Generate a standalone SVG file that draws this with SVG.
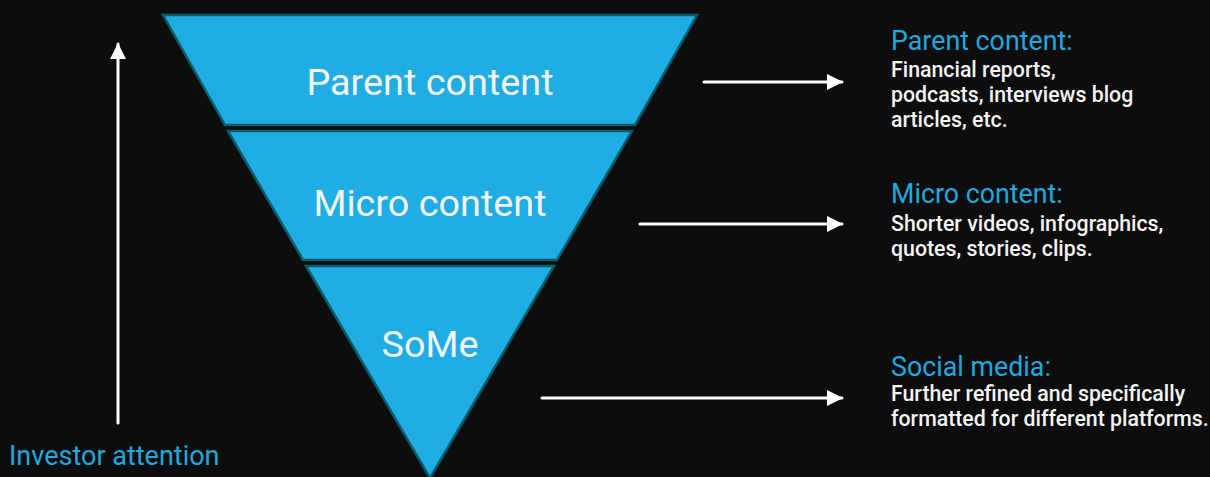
<svg xmlns="http://www.w3.org/2000/svg" width="1210" height="477" viewBox="0 0 1210 477">
<style>
.band{fill:#1fade3;stroke:#0b5d6c;stroke-width:2.5;stroke-linejoin:miter}
.lbl{font-family:Roboto,"Liberation Sans",sans-serif;font-size:37.8px;fill:#f4f4f4;text-anchor:middle}
.hd{font-family:Roboto,"Liberation Sans",sans-serif;font-size:26.8px;fill:#1fa9de}
.tx{font-family:Roboto,"Liberation Sans",sans-serif;font-size:21.3px;font-weight:500;fill:#f4f4f4}
.ln{stroke:#ffffff;stroke-width:3;fill:none;stroke-linecap:round}
</style>
<defs>
<marker id="ah" viewBox="0 0 16 16" refX="15" refY="8" markerWidth="16" markerHeight="16" markerUnits="userSpaceOnUse" orient="auto">
<path d="M0,0 L16,8 L0,16 Z" fill="#ffffff"/>
</marker>
</defs>
<rect width="1210" height="477" fill="#0d0d0d"/>
<g id="parent">
<polygon class="band" points="163,15 697,15 635,125 225,125"/>
<text class="lbl" x="430" y="95">Parent content</text>
</g>
<g id="micro">
<polygon class="band" points="228,131 632,131 557,260 303,260"/>
<text class="lbl" x="430" y="216">Micro content</text>
</g>
<g id="some">
<polygon class="band" points="306,266 554,266 430,478"/>
<text class="lbl" x="430" y="357">SoMe</text>
</g>
<g id="connectors">
<line class="ln" x1="118" y1="423" x2="118" y2="44" marker-end="url(#ah)"/>
<line class="ln" x1="704" y1="82" x2="842" y2="82" marker-end="url(#ah)"/>
<line class="ln" x1="640" y1="224" x2="842" y2="224" marker-end="url(#ah)"/>
<line class="ln" x1="542" y1="398" x2="842" y2="398" marker-end="url(#ah)"/>
</g>
<g id="desc-parent">
<text class="hd" x="891" y="50">Parent content:</text>
<text class="tx" x="891" y="77">Financial reports,</text>
<text class="tx" x="891" y="102">podcasts, interviews blog</text>
<text class="tx" x="891" y="127">articles, etc.</text>
</g>
<g id="desc-micro">
<text class="hd" x="891" y="203">Micro content:</text>
<text class="tx" x="891" y="231">Shorter videos, infographics,</text>
<text class="tx" x="891" y="256">quotes, stories, clips.</text>
</g>
<g id="desc-some">
<text class="hd" x="891" y="376">Social media:</text>
<text class="tx" x="891" y="401">Further refined and specifically</text>
<text class="tx" x="891" y="426">formatted for different platforms.</text>
</g>
<g id="investor">
<text class="hd" x="9" y="465" style="font-size:27px">Investor attention</text>
</g>
</svg>
